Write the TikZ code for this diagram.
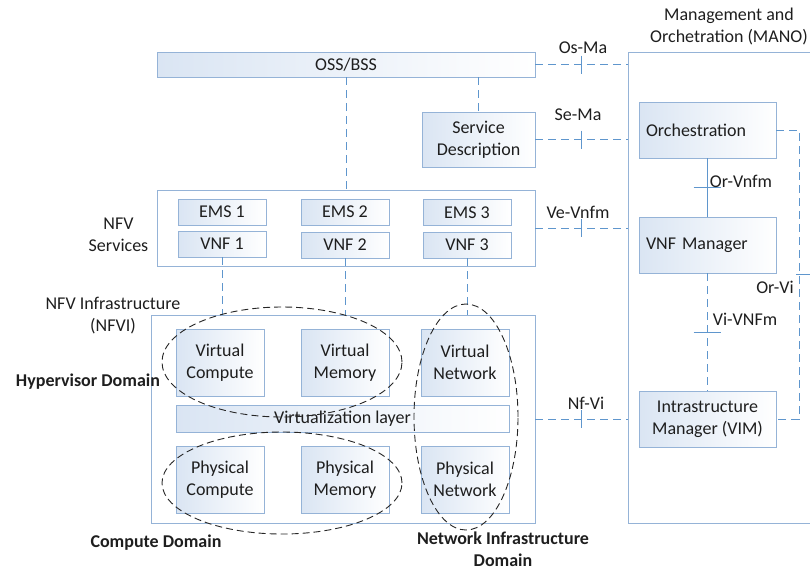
\documentclass[tikz,border=0pt]{standalone}
\usepackage{fontspec}
\setmainfont{Carlito}
\usetikzlibrary{calc}
\definecolor{bord}{RGB}{149,179,215}
\definecolor{conn}{RGB}{95,150,205}
\definecolor{fillb}{RGB}{218,229,243}
\definecolor{txt}{RGB}{30,30,30}
\begin{document}
\begin{tikzpicture}[x=1pt,y=-1pt,
  font=\fontsize{18}{22}\selectfont, text=txt,
  every node/.style={inner sep=0pt, outer sep=0pt},
  gbox/.style={draw=bord, line width=0.9pt, left color=fillb, right color=white, align=center},
  wbox/.style={draw=bord, line width=0.9pt, fill=white},
  conn/.style={draw=conn, line width=1pt, dash pattern=on 8pt off 5pt},
  solidc/.style={draw=conn, line width=1pt},
  tickc/.style={draw=conn, line width=1pt},
  ell/.style={draw=black!85, line width=0.9pt, dash pattern=on 7pt off 4pt},
  lab/.style={align=center},
  blab/.style={align=center, font=\fontsize{18}{22}\selectfont\bfseries}
]
\useasboundingbox (0,0) rectangle (810,571);

% big containers
\node[wbox, minimum width=378pt, minimum height=76pt] (nfvs) at (346,228) {};
\node[wbox, minimum width=384pt, minimum height=208pt] (nfvi) at (343,419) {};
\node[wbox, minimum width=200pt, minimum height=471pt, anchor=north west] (mano) at (628,52) {};

% top boxes
\node[gbox, minimum width=378pt, minimum height=25pt] (oss) at (346,64.5) {OSS/BSS};
\node[gbox, minimum width=113pt, minimum height=55pt] (sd) at (478.5,139.5) {Service\\Description};

% NFV services
\node[gbox, minimum width=88pt, minimum height=26pt] (ems1) at (222,212) {EMS 1};
\node[gbox, minimum width=88pt, minimum height=26pt] (ems2) at (345,212) {EMS 2};
\node[gbox, minimum width=88pt, minimum height=26pt] (ems3) at (467,212.5) {EMS 3};
\node[gbox, minimum width=88pt, minimum height=26pt] (vnf1) at (222,244) {VNF 1};
\node[gbox, minimum width=88pt, minimum height=26pt] (vnf2) at (345,245) {VNF 2};
\node[gbox, minimum width=88pt, minimum height=26pt] (vnf3) at (467,245) {VNF 3};

% NFVI
\node[gbox, minimum width=88pt, minimum height=67pt] (vc) at (220,362.5) {Virtual\\Compute};
\node[gbox, minimum width=88pt, minimum height=67pt] (vm) at (345,362.5) {Virtual\\Memory};
\node[gbox, minimum width=88pt, minimum height=67pt] (vn) at (465,362.5) {Virtual\\Network};
\node[gbox, minimum width=333pt, minimum height=27pt] (vl) at (342.5,418.5) {Virtualization layer};
\node[gbox, minimum width=88pt, minimum height=67pt] (pc) at (220,479.5) {Physical\\Compute};
\node[gbox, minimum width=88pt, minimum height=67pt] (pm) at (345,479.5) {Physical\\Memory};
\node[gbox, minimum width=88pt, minimum height=67pt] (pn) at (465,479.5) {Physical\\Network};

% MANO
\node[gbox, minimum width=137pt, minimum height=56pt, text width=123pt, align=left] (orch) at (707.5,130) {Orchestration};
\node[gbox, minimum width=137pt, minimum height=56pt, text width=123pt, align=left] (vnfm) at (707.5,245) {VNF Manager};
\node[gbox, minimum width=137pt, minimum height=56pt] (vim) at (707.5,419) {Intrastructure\\Manager (VIM)};

% text labels
\node[lab] (manot) at (729,26) {Management and\\Orchetration (MANO)};
\node[lab] (nfvst) at (118.5,234.5) {NFV\\Services};
\node[lab] (nfvit) at (113,316) {NFV Infrastructure\\(NFVI)};
\node[blab] (hyp) at (88,382) {Hypervisor Domain};
\node[blab] (cd) at (156,543) {Compute Domain};
\node[blab] (nid) at (503,549) {Network Infrastructure\\Domain};

% vertical connectors
\draw[conn] (oss.south) -- (nfvs.north);
\draw[conn] (oss.south -| sd.north) -- (sd.north);
\draw[conn] (vnf1.south) -- (vnf1.south |- nfvi.north);
\draw[conn] (vnf2.south) -- (vnf2.south |- nfvi.north);
\draw[conn] (vnf3.south) -- (vnf3.south |- nfvi.north);

% reference points to MANO
\draw[conn] (oss.east) -- coordinate (t1) (oss.east -| mano.west);
\draw[tickc] ($(t1)+(0,-9)$) -- ($(t1)+(0,9)$);
\draw[conn] (sd.east) -- coordinate (t2) (sd.east -| mano.west);
\draw[tickc] ($(t2)+(0,-9)$) -- ($(t2)+(0,9)$);
\draw[conn] (nfvs.east) -- coordinate (t3) (nfvs.east -| mano.west);
\draw[tickc] ($(t3)+(0,-9)$) -- ($(t3)+(0,9)$);
\draw[conn] (nfvi.east) -- coordinate (t4) (nfvi.east -| mano.west);
\draw[tickc] ($(t4)+(0,-9)$) -- ($(t4)+(0,9)$);

\node[lab] (osma) at (583,48) {Os-Ma};
\node[lab] (sema) at (578,115) {Se-Ma};
\node[lab] (vevnfm) at (578,212) {Ve-Vnfm};
\node[lab] (nfvil) at (586,403) {Nf-Vi};

% inside MANO
\draw[solidc] (orch.south) -- coordinate (t5) (vnfm.north);
\draw[tickc] ($(t5)+(-14,0)$) -- ($(t5)+(13,0)$);
\draw[conn] (vnfm.south) -- coordinate (t6) (vim.north);
\draw[tickc] ($(t6)+(-14,0)$) -- ($(t6)+(13,0)$);
\coordinate (c1) at (799,130);
\coordinate (c2) at (799,419);
\draw[conn] (orch.east) -- (c1) -- coordinate (t7) (c2) -- (vim.east);
\draw[tickc] ($(t7)+(-3,0)$) -- ($(t7)+(16,0)$);

\node[lab] (orvnfm) at (741,181) {Or-Vnfm};
\node[lab] (vivnfm) at (745,319) {Vi-VNFm};
\node[lab] (orvi) at (775,287) {Or-Vi};

% domain ellipses
\draw[ell] (282,362) ellipse [x radius=120pt, y radius=55pt];
\draw[ell] (282,483) ellipse [x radius=120pt, y radius=51pt];
\draw[ell] (466,417) ellipse [x radius=52pt, y radius=113pt];
\end{tikzpicture}
\end{document}
